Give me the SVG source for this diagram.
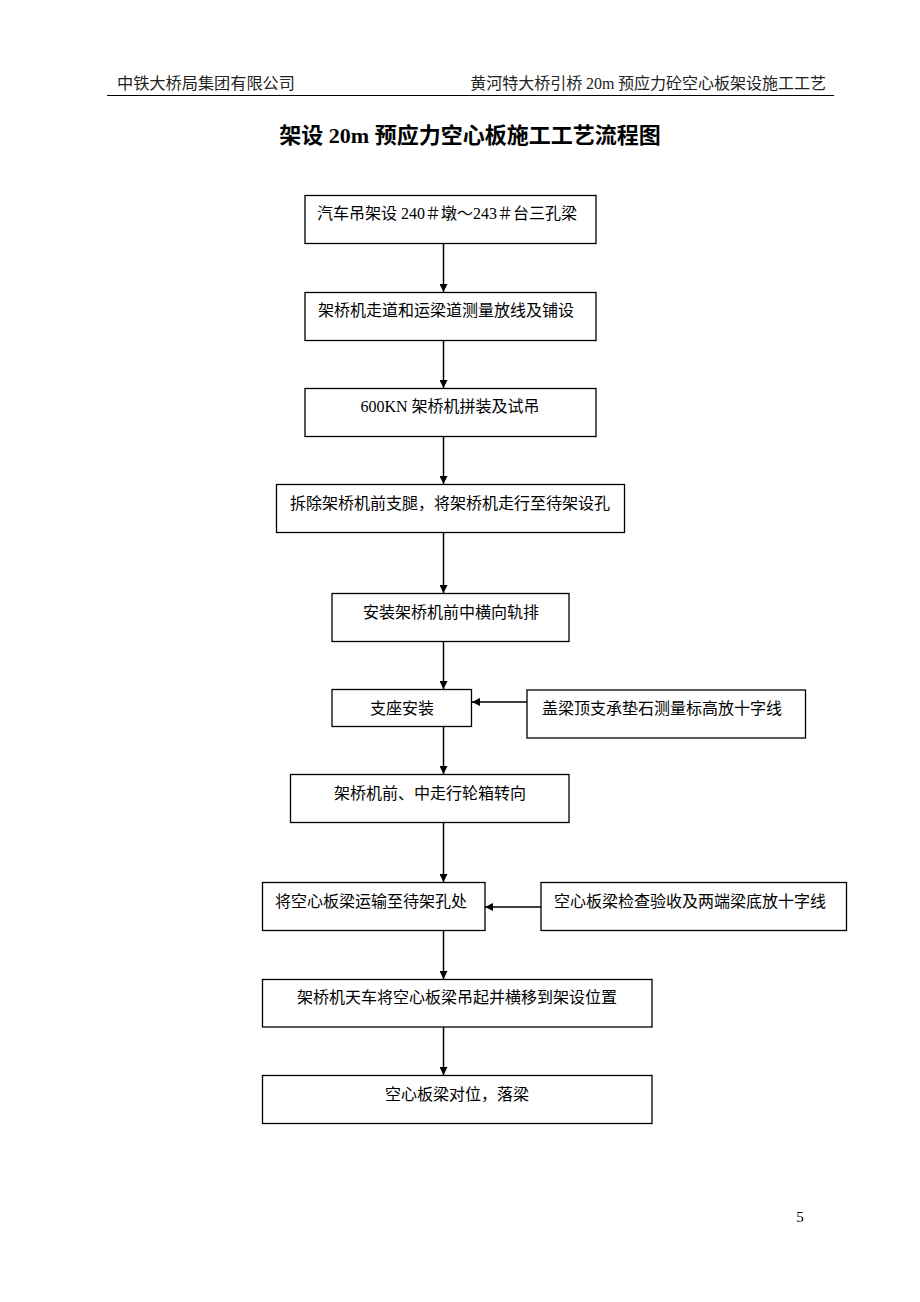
<svg xmlns="http://www.w3.org/2000/svg" width="920" height="1302" viewBox="0 0 920 1302">
<style>
.box{fill:#fff;stroke:#000;stroke-width:1.3}
.t{font-family:"Liberation Serif","Noto Sans CJK SC",serif;font-size:16px;fill:#000;text-anchor:middle}
.h{font-family:"Noto Sans CJK SC","Liberation Sans",sans-serif;font-size:16px;fill:#222}
.c{stroke:#000;stroke-width:1.5;fill:none}
</style>
<defs>
<marker id="ah" markerWidth="8" markerHeight="8" refX="8" refY="4" orient="auto" markerUnits="userSpaceOnUse">
<path d="M0,0 L8,4 L0,8 Z" fill="#000"/>
</marker>
</defs>
<rect width="920" height="1302" fill="#fff"/>
<g id="header">
<text class="h" x="117" y="89" textLength="178" lengthAdjust="spacingAndGlyphs">中铁大桥局集团有限公司</text>
<text class="h" x="826" y="89" text-anchor="end">黄河特大桥引桥 <tspan font-family="Liberation Serif,serif">20m</tspan> 预应力砼空心板架设施工工艺</text>
<line x1="107" y1="95.5" x2="834" y2="95.5" stroke="#000" stroke-width="1"/>
</g>
<g id="title">
<text x="470" y="143" font-family="Liberation Serif,'Noto Sans CJK SC',serif" font-size="22" font-weight="bold" text-anchor="middle">架设 20m 预应力空心板施工工艺流程图</text>
</g>
<g id="connectors">
<line class="c" x1="443.5" y1="243" x2="443.5" y2="292" marker-end="url(#ah)"/>
<line class="c" x1="443.5" y1="340" x2="443.5" y2="388" marker-end="url(#ah)"/>
<line class="c" x1="443.5" y1="436" x2="443.5" y2="484" marker-end="url(#ah)"/>
<line class="c" x1="443.5" y1="533" x2="443.5" y2="593" marker-end="url(#ah)"/>
<line class="c" x1="443.5" y1="641" x2="443.5" y2="689" marker-end="url(#ah)"/>
<line class="c" x1="443.5" y1="726" x2="443.5" y2="774" marker-end="url(#ah)"/>
<line class="c" x1="443.5" y1="822" x2="443.5" y2="882" marker-end="url(#ah)"/>
<line class="c" x1="443.5" y1="930" x2="443.5" y2="979" marker-end="url(#ah)"/>
<line class="c" x1="443.5" y1="1027" x2="443.5" y2="1075" marker-end="url(#ah)"/>
<line class="c" x1="527" y1="702" x2="472" y2="702" marker-end="url(#ah)"/>
<line class="c" x1="541" y1="907" x2="485" y2="907" marker-end="url(#ah)"/>
</g>
<g id="n1"><rect class="box" x="305" y="195.5" width="291" height="48"/><text class="t" x="447" y="219">汽车吊架设 240＃墩～243＃台三孔梁</text></g>
<g id="n2"><rect class="box" x="305" y="292.5" width="291" height="48"/><text class="t" x="446" y="316">架桥机走道和运梁道测量放线及铺设</text></g>
<g id="n3"><rect class="box" x="305" y="388.5" width="291" height="48"/><text class="t" x="450" y="412">600KN 架桥机拼装及试吊</text></g>
<g id="n4"><rect class="box" x="276.5" y="484.5" width="348" height="48"/><text class="t" x="450" y="509">拆除架桥机前支腿，将架桥机走行至待架设孔</text></g>
<g id="n5"><rect class="box" x="332" y="593.5" width="237" height="48"/><text class="t" x="451" y="618">安装架桥机前中横向轨排</text></g>
<g id="n6"><rect class="box" x="332" y="689.5" width="139.5" height="37"/><text class="t" x="402" y="714">支座安装</text></g>
<g id="n7"><rect class="box" x="527" y="690" width="278.5" height="48"/><text class="t" x="662" y="714">盖梁顶支承垫石测量标高放十字线</text></g>
<g id="n8"><rect class="box" x="290.5" y="774.5" width="278.5" height="48"/><text class="t" x="430" y="799">架桥机前、中走行轮箱转向</text></g>
<g id="n9"><rect class="box" x="262.5" y="882.5" width="222.5" height="48"/><text class="t" x="371" y="907">将空心板梁运输至待架孔处</text></g>
<g id="n10"><rect class="box" x="541" y="882.5" width="305.5" height="48"/><text class="t" x="690" y="907">空心板梁检查验收及两端梁底放十字线</text></g>
<g id="n11"><rect class="box" x="262.5" y="979.5" width="389.5" height="47.5"/><text class="t" x="457" y="1003">架桥机天车将空心板梁吊起并横移到架设位置</text></g>
<g id="n12"><rect class="box" x="262.5" y="1075.5" width="389.5" height="48"/><text class="t" x="457" y="1100">空心板梁对位，落梁</text></g>
<g id="page"><text x="800" y="1222" font-family="Liberation Serif,serif" font-size="15" text-anchor="middle">5</text></g>
</svg>
